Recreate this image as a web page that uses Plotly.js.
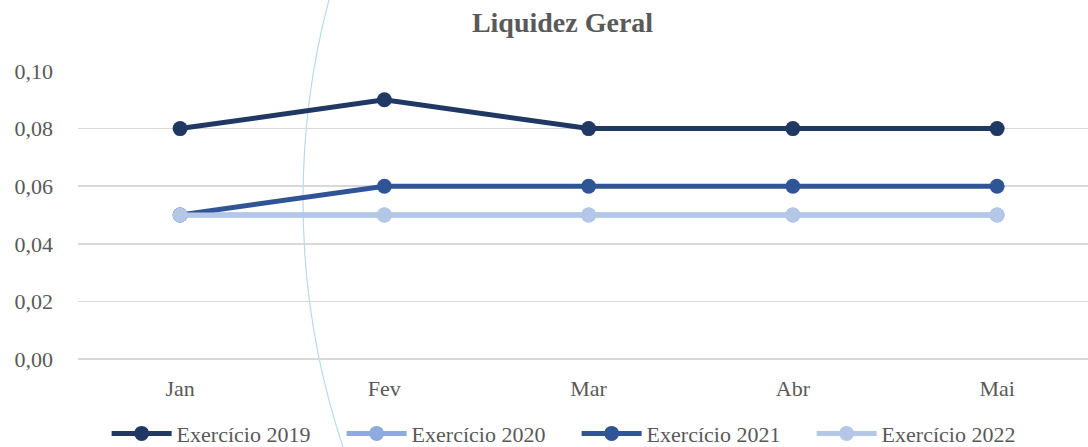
<!DOCTYPE html>
<html>
<head>
<meta charset="utf-8">
<script src="https://cdn.plot.ly/plotly-3.0.1.min.js"></script>
<style>
html,body{margin:0;padding:0;background:#fff;}
#wrap{position:relative;width:1088px;height:447px;overflow:hidden;}
#bg{position:absolute;left:0;top:0;}
#chart{position:absolute;left:0;top:0;width:1088px;height:447px;}
</style>
</head>
<body>
<div id="wrap">
<svg id="bg" width="1088" height="447"><circle cx="1085" cy="200" r="782" fill="none" stroke="#b9dbe6" stroke-width="1.2"/></svg>
<div id="chart"></div>
</div>
<script>
const months = ["Jan", "Fev", "Mar", "Abr", "Mai"];
const seriesNames = ["Exercício 2019", "Exercício 2020", "Exercício 2021", "Exercício 2022"];
const ex2019 = [0.08, 0.09, 0.08, 0.08, 0.08];
const ex2020 = [0.05, 0.05, 0.05, 0.05, 0.05];
const ex2021 = [0.05, 0.06, 0.06, 0.06, 0.06];
const ex2022 = [0.05, 0.05, 0.05, 0.05, 0.05];
const colors = ["#203864", "#8faadc", "#2f5597", "#b4c7e7"];
const yTicks = [0, 0.02, 0.04, 0.06, 0.08, 0.10];

const allSeries = [ex2019, ex2020, ex2021, ex2022];
const traces = allSeries.map((vals, i) => ({
  type: "scatter",
  mode: "lines+markers",
  name: seriesNames[i],
  x: months,
  y: vals,
  line: {color: colors[i], width: 5},
  marker: {color: colors[i], size: 15},
  hoverinfo: "skip"
}));

const font = "'Liberation Serif', 'DejaVu Serif', serif";
const layout = {
  width: 1088, height: 447,
  paper_bgcolor: "rgba(0,0,0,0)",
  plot_bgcolor: "rgba(0,0,0,0)",
  separators: ",.",
  margin: {l: 78, r: 0, t: 71, b: 88, autoexpand: false},
  font: {family: font, color: "#595959", size: 22},
  title: {text: "<b>Liquidez Geral</b>", x: 0.517, xanchor: "center", y: 0.95, yanchor: "middle",
          font: {family: font, size: 28, color: "#595959"}},
  showlegend: true,
  legend: {orientation: "h", xref: "container", yref: "container", x: 0.098, xanchor: "left",
           y: 0.03, yanchor: "middle",
           entrywidth: 160, entrywidthmode: "pixels", itemwidth: 60,
           font: {family: font, size: 22, color: "#595959"}, traceorder: "normal"},
  xaxis: {type: "category", range: [-0.5, 4.445], showgrid: false, zeroline: false,
          showline: false, ticks: "", ticklabelstandoff: 14,
          tickfont: {family: font, size: 22, color: "#595959"}, fixedrange: true},
  yaxis: {range: [0, 0.10], tickvals: yTicks, tickformat: ".2f", showgrid: true,
          gridcolor: "#d9d9d9", gridwidth: 1.5, zeroline: true, zerolinecolor: "#d9d9d9",
          zerolinewidth: 1.5, showline: false, ticks: "", ticklabelstandoff: 24,
          tickfont: {family: font, size: 22, color: "#595959"}, fixedrange: true}
};
Plotly.newPlot("chart", traces, layout, {displayModeBar: false, staticPlot: true});
</script>
</body>
</html>
